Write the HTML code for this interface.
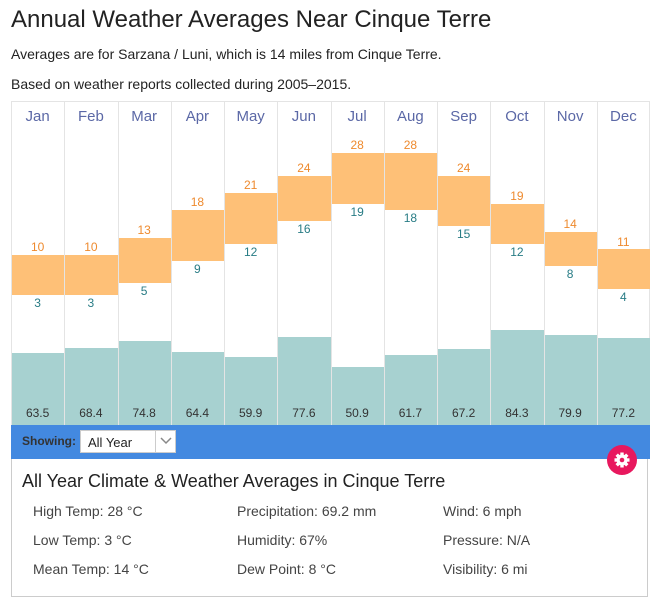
<!DOCTYPE html><html><head><style>
body{margin:0;width:661px;height:606px;background:#fff;font-family:"Liberation Sans",sans-serif;position:relative;overflow:hidden;color:#222}
.a{position:absolute}
.col{position:absolute;top:102px;height:323px;width:53.25px;border-left:1px solid #e4e4e4;box-sizing:border-box}
.m{position:absolute;top:108px;width:53.25px;text-align:center;font-size:15px;color:#5b68a6}
.t{position:absolute;background:#fec077;width:52.25px}
.h{position:absolute;width:53.25px;text-align:center;font-size:12px;color:#ee8a2e}
.l{position:absolute;width:53.25px;text-align:center;font-size:12px;color:#287c85}
.p{position:absolute;background:#a7d1d0;width:52.25px;bottom:181px}
.v{position:absolute;top:406px;width:53.25px;text-align:center;font-size:12px;color:#333}
.s{position:absolute;font-size:14px;color:#444}
</style></head><body>
<div class="a" style="left:11px;top:6px;font-size:24px;color:#222">Annual Weather Averages Near Cinque Terre</div>
<div class="a" style="left:11px;top:46px;font-size:14px">Averages are for Sarzana / Luni, which is 14 miles from Cinque Terre.</div>
<div class="a" style="left:11px;top:76px;font-size:14px">Based on weather reports collected during 2005–2015.</div>
<div class="a" style="left:11px;top:101px;width:639px;height:1px;background:#e4e4e4"></div>
<div class="a" style="left:649px;top:102px;width:1px;height:323px;background:#e4e4e4"></div>
<div class="col" style="left:11px"></div><div class="col" style="left:64.25px"></div><div class="col" style="left:117.5px"></div><div class="col" style="left:170.75px"></div><div class="col" style="left:224px"></div><div class="col" style="left:277.25px"></div><div class="col" style="left:330.5px"></div><div class="col" style="left:383.75px"></div><div class="col" style="left:437px"></div><div class="col" style="left:490.25px"></div><div class="col" style="left:543.5px"></div><div class="col" style="left:596.75px"></div>
<div class="m" style="left:11px">Jan</div><div class="m" style="left:64.25px">Feb</div><div class="m" style="left:117.5px">Mar</div><div class="m" style="left:170.75px">Apr</div><div class="m" style="left:224px">May</div><div class="m" style="left:277.25px">Jun</div><div class="m" style="left:330.5px">Jul</div><div class="m" style="left:383.75px">Aug</div><div class="m" style="left:437px">Sep</div><div class="m" style="left:490.25px">Oct</div><div class="m" style="left:543.5px">Nov</div><div class="m" style="left:596.75px">Dec</div>

<div class="t" style="left:12px;top:255px;height:40px"></div>
<div class="t" style="left:65.25px;top:255px;height:40px"></div>
<div class="t" style="left:118.5px;top:238px;height:45px"></div>
<div class="t" style="left:171.75px;top:210px;height:51px"></div>
<div class="t" style="left:225px;top:193px;height:51px"></div>
<div class="t" style="left:278.25px;top:176px;height:45px"></div>
<div class="t" style="left:331.5px;top:153px;height:51px"></div>
<div class="t" style="left:384.75px;top:153px;height:57px"></div>
<div class="t" style="left:438px;top:176px;height:50px"></div>
<div class="t" style="left:491.25px;top:204px;height:40px"></div>
<div class="t" style="left:544.5px;top:232px;height:34px"></div>
<div class="t" style="left:597.75px;top:249px;height:40px"></div>

<div class="h" style="left:11px;top:240px">10</div><div class="l" style="left:11px;top:296px">3</div>
<div class="h" style="left:64.25px;top:240px">10</div><div class="l" style="left:64.25px;top:296px">3</div>
<div class="h" style="left:117.5px;top:223px">13</div><div class="l" style="left:117.5px;top:284px">5</div>
<div class="h" style="left:170.75px;top:195px">18</div><div class="l" style="left:170.75px;top:262px">9</div>
<div class="h" style="left:224px;top:178px">21</div><div class="l" style="left:224px;top:245px">12</div>
<div class="h" style="left:277.25px;top:161px">24</div><div class="l" style="left:277.25px;top:222px">16</div>
<div class="h" style="left:330.5px;top:138px">28</div><div class="l" style="left:330.5px;top:205px">19</div>
<div class="h" style="left:383.75px;top:138px">28</div><div class="l" style="left:383.75px;top:211px">18</div>
<div class="h" style="left:437px;top:161px">24</div><div class="l" style="left:437px;top:227px">15</div>
<div class="h" style="left:490.25px;top:189px">19</div><div class="l" style="left:490.25px;top:245px">12</div>
<div class="h" style="left:543.5px;top:217px">14</div><div class="l" style="left:543.5px;top:267px">8</div>
<div class="h" style="left:596.75px;top:235px">11</div><div class="l" style="left:596.75px;top:290px">4</div>

<div class="p" style="left:12px;top:353px"></div>
<div class="p" style="left:65.25px;top:348px"></div>
<div class="p" style="left:118.5px;top:341px"></div>
<div class="p" style="left:171.75px;top:352px"></div>
<div class="p" style="left:225px;top:357px"></div>
<div class="p" style="left:278.25px;top:337px"></div>
<div class="p" style="left:331.5px;top:367px"></div>
<div class="p" style="left:384.75px;top:355px"></div>
<div class="p" style="left:438px;top:349px"></div>
<div class="p" style="left:491.25px;top:330px"></div>
<div class="p" style="left:544.5px;top:335px"></div>
<div class="p" style="left:597.75px;top:338px"></div>
<div class="v" style="left:11px">63.5</div><div class="v" style="left:64.25px">68.4</div><div class="v" style="left:117.5px">74.8</div><div class="v" style="left:170.75px">64.4</div><div class="v" style="left:224px">59.9</div><div class="v" style="left:277.25px">77.6</div><div class="v" style="left:330.5px">50.9</div><div class="v" style="left:383.75px">61.7</div><div class="v" style="left:437px">67.2</div><div class="v" style="left:490.25px">84.3</div><div class="v" style="left:543.5px">79.9</div><div class="v" style="left:596.75px">77.2</div>

<div class="a" style="left:11px;top:425px;width:639px;height:34px;background:#4389e0"></div>
<div class="a" style="left:22px;top:434px;font-size:12px;font-weight:bold;color:#333">Showing:</div>
<div class="a" style="left:80px;top:430px;width:96px;height:23px;background:#fff;border:1px solid #ccc;box-sizing:border-box">
<span class="a" style="left:7px;top:4px;font-size:13px;color:#222">All Year</span>
<div class="a" style="left:74px;top:0;width:1px;height:21px;background:#ccc"></div>
<svg class="a" style="left:79px;top:6px" width="12" height="8"><path d="M1 1 L6 6 L11 1" stroke="#888" stroke-width="1.5" fill="none"/></svg></div>
<div class="a" style="left:11px;top:459px;width:637px;height:138px;border:1px solid #ccc;border-top:none;box-sizing:border-box"></div>
<div class="a" style="left:607px;top:445px;width:30px;height:30px;border-radius:50%;background:#e8185e"></div>
<svg class="a" style="left:612px;top:450px" width="20" height="20" viewBox="0 0 20 20"><g fill="#fff"><circle cx="10" cy="10" r="5.5"/><rect x="8.3" y="2.5" width="3.4" height="15"/><rect x="2.5" y="8.3" width="15" height="3.4"/><rect x="8.3" y="2.5" width="3.4" height="15" transform="rotate(45 10 10)"/><rect x="8.3" y="2.5" width="3.4" height="15" transform="rotate(-45 10 10)"/></g><circle cx="10" cy="10" r="2.3" fill="#e8185e"/></svg>
<div class="a" style="left:22px;top:471px;font-size:18px;color:#222">All Year Climate &amp; Weather Averages in Cinque Terre</div>
<div class="s" style="left:33px;top:503px">High Temp: 28 °C</div>
<div class="s" style="left:33px;top:532px">Low Temp: 3 °C</div>
<div class="s" style="left:33px;top:561px">Mean Temp: 14 °C</div>
<div class="s" style="left:237px;top:503px">Precipitation: 69.2 mm</div>
<div class="s" style="left:237px;top:532px">Humidity: 67%</div>
<div class="s" style="left:237px;top:561px">Dew Point: 8 °C</div>
<div class="s" style="left:443px;top:503px">Wind: 6 mph</div>
<div class="s" style="left:443px;top:532px">Pressure: N/A</div>
<div class="s" style="left:443px;top:561px">Visibility: 6 mi</div>
</body></html>
